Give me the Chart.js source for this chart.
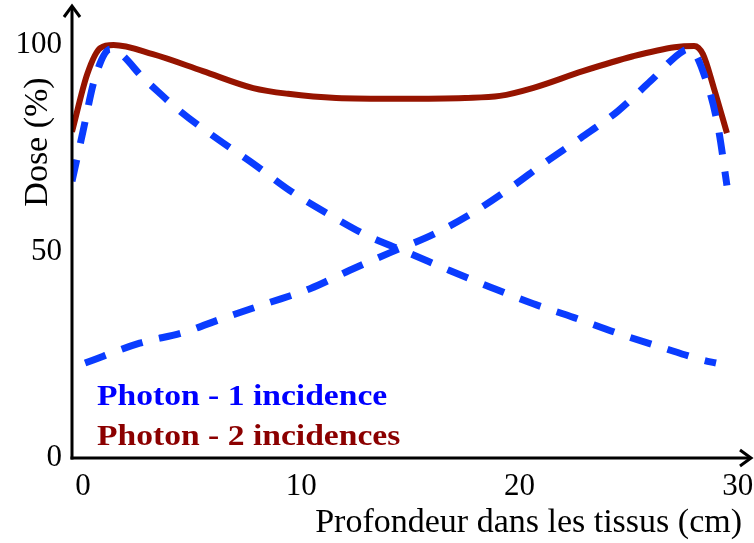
<!DOCTYPE html>
<html>
<head>
<meta charset="utf-8">
<script src="https://cdn.jsdelivr.net/npm/chart.js@4"></script>
<style>
  html, body { margin: 0; padding: 0; background: #fff; }
  #wrap { width: 754px; height: 543px; }
</style>
</head>
<body>
<div id="wrap"><canvas id="doseChart" width="754" height="543"></canvas></div>
<script>
// Values
const xTicks = [0, 10, 20, 30];
const yTicks = [0, 50, 100];

const twoBeamX = [-0.5, 0.2, 0.8, 1.4, 3.2, 5.5, 7.8, 9.4, 11.6, 14.5, 17.5, 19.1, 20.6, 22.9, 25.2, 27.1, 28.0, 28.4, 28.9, 29.5];
const twoBeamY = [79, 93, 99.3, 100, 97.8, 93.7, 89.6, 88.2, 87.2, 87.0, 87.2, 87.7, 89.6, 93.7, 97.3, 99.5, 99.8, 97.8, 89.6, 78.7];

const beamDownX = [-0.5, 0, 0.55, 1.25, 2.9, 4.45, 6.1, 7.8, 9.5, 11.2, 13.0, 15.0, 16.8, 18.7, 20.6, 22.5, 24.5, 26.5, 28.4, 29.0];
const beamDownY = [67, 79, 92, 99, 91.3, 84, 77.5, 71.3, 64.7, 59.2, 53.9, 49.5, 45.4, 41.3, 37.4, 34, 30.2, 26.8, 23.7, 23];

const beamUpX = [0.1, 2.6, 4.6, 6.4, 8.4, 10.4, 12.2, 14.1, 16.1, 17.8, 19.6, 21.1, 22.8, 24.5, 26.0, 27.5, 27.8, 28.6, 29.1, 29.5];
const beamUpY = [23, 27.8, 30.4, 33.8, 37.4, 41, 45.4, 49.8, 54.3, 59.2, 65.5, 71.3, 77.5, 84, 91.3, 98.6, 99, 90.6, 80, 66];

const legendLabels = ["Photon - 1 incidence", "Photon - 2 incidences"];
const yTitle = "Dose (%)";
const xTitle = "Profondeur dans les tissus (cm)";

const BLUE = "#0a3cff";
const RED = "#961400";
const SERIF = "'Liberation Serif', 'DejaVu Serif', serif";

const toPoints = (xs, ys) => xs.map((x, i) => ({ x, y: ys[i] }));

// Axis arrows, rotated y title and in-plot legend
const decorPlugin = {
  id: "decor",
  afterDraw(chart) {
    const { ctx, chartArea } = chart;
    const left = chartArea.left;
    const bottom = chartArea.bottom;

    ctx.save();
    ctx.strokeStyle = "#000";
    ctx.lineWidth = 3;
    ctx.lineCap = "butt";

    // y axis with arrow
    ctx.beginPath();
    ctx.moveTo(left, bottom + 1.5);
    ctx.lineTo(left, 7);
    ctx.stroke();
    ctx.beginPath();
    ctx.moveTo(left - 8, 17);
    ctx.lineTo(left, 6);
    ctx.lineTo(left + 8, 17);
    ctx.stroke();

    // x axis with arrow
    ctx.beginPath();
    ctx.moveTo(left - 1.5, bottom);
    ctx.lineTo(750, bottom);
    ctx.stroke();
    ctx.beginPath();
    ctx.moveTo(740, bottom - 8);
    ctx.lineTo(751, bottom);
    ctx.lineTo(740, bottom + 8);
    ctx.stroke();

    // y title
    ctx.fillStyle = "#000";
    ctx.font = `34px ${SERIF}`;
    ctx.textAlign = "center";
    ctx.textBaseline = "middle";
    ctx.translate(38, 142);
    ctx.rotate(-Math.PI / 2);
    ctx.fillText(yTitle, 0, 0);
    ctx.restore();

    // legend text
    ctx.save();
    ctx.font = `bold 30px ${SERIF}`;
    ctx.textAlign = "left";
    ctx.textBaseline = "alphabetic";
    legendLabels.forEach((label, i) => {
      ctx.save();
      ctx.fillStyle = i === 0 ? "#0000ff" : "#8b0000";
      ctx.translate(97, 405 + i * 40);
      ctx.scale(1.12, 1);
      ctx.fillText(label, 0, 0);
      ctx.restore();
    });
    ctx.restore();
  },
};

const lineStyle = (color, dashed) => ({
  borderColor: color,
  borderWidth: dashed ? 7 : 6,
  borderDash: dashed ? [22, 17] : [],
  borderCapStyle: "butt",
  pointRadius: 0,
  fill: false,
  cubicInterpolationMode: "monotone",
});

new Chart(document.getElementById("doseChart"), {
  type: "line",
  data: {
    datasets: [
      { label: legendLabels[0], data: toPoints(beamDownX, beamDownY), ...lineStyle(BLUE, true) },
      { label: legendLabels[0], data: toPoints(beamUpX, beamUpY), ...lineStyle(BLUE, true) },
      { label: legendLabels[1], data: toPoints(twoBeamX, twoBeamY), ...lineStyle(RED, false) },
    ],
  },
  options: {
    responsive: false,
    animation: false,
    layout: { padding: { left: 10, right: 12, top: 0, bottom: 0 } },
    plugins: {
      legend: { display: false },
      tooltip: { enabled: false },
    },
    scales: {
      x: {
        type: "linear",
        min: -0.5,
        max: 30.19,
        afterBuildTicks: (scale) => {
          scale.ticks = xTicks.map((v) => ({ value: v }));
        },
        afterFit: (scale) => {
          scale.height = 85;
          // keep tick label overhang from shrinking the plot area
          scale.paddingLeft = 0;
          scale.paddingRight = 0;
        },
        grid: { display: false, drawTicks: false },
        border: { display: false },
        ticks: {
          color: "#000",
          padding: 10,
          maxRotation: 0,
          font: { family: SERIF, size: 31 },
        },
        title: {
          display: true,
          text: xTitle,
          align: "end",
          color: "#000",
          font: { family: SERIF, size: 34 },
          padding: { top: 0, bottom: 0 },
        },
      },
      y: {
        min: 0,
        max: 104,
        afterBuildTicks: (scale) => {
          scale.ticks = yTicks.map((v) => ({ value: v }));
        },
        afterFit: (scale) => {
          scale.width = 62;
        },
        grid: { display: false, drawTicks: false },
        border: { display: false },
        ticks: {
          color: "#000",
          padding: 10,
          font: { family: SERIF, size: 31 },
        },
      },
    },
  },
  plugins: [decorPlugin],
});
</script>
</body>
</html>
